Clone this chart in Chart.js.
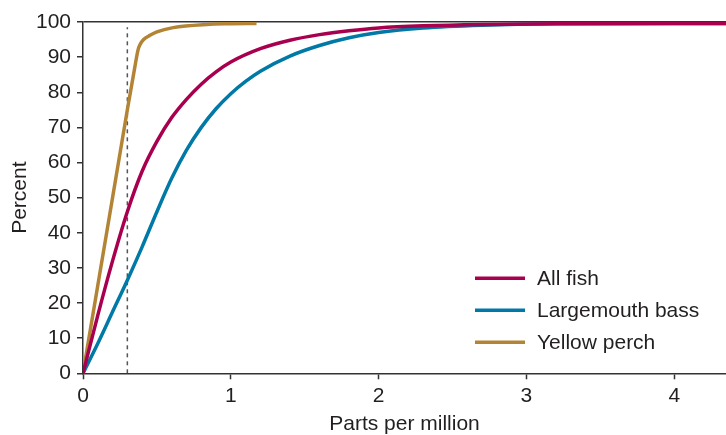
<!DOCTYPE html>
<html lang="en">
<head>
    <meta charset="UTF-8">
    <title>Mercury in fish</title>
    <style>
        body{ margin: 0; background: #fff; }
        div{ width: 726px; height: 435px; }
    </style>
</head>
<body>
    <div>
        <canvas id="grafico"></canvas>
    </div>

<script src="https://cdn.jsdelivr.net/npm/chart.js"></script>
<script>
  // cumulative percent of fish vs mercury concentration (ppm)
  const seriesNames = ["All fish", "Largemouth bass", "Yellow perch"];
  const seriesColors = ["#a8004f", "#0079a6", "#b38436"];

  const allFishX = [0, 0.1, 0.2, 0.3, 0.4, 0.5, 0.6, 0.7, 0.8, 0.9, 1.0, 1.2, 1.4, 1.6, 1.8, 2.0, 2.3, 2.7, 3.2, 4.35];
  const allFishY = [0, 16.5, 32, 46, 57.5, 66, 72.8, 78, 82.3, 85.8, 88.6, 92.4, 94.8, 96.4, 97.5, 98.3, 98.9, 99.3, 99.5, 99.6];

  const bassX = [0, 0.1, 0.2, 0.3, 0.4, 0.5, 0.6, 0.7, 0.8, 0.9, 1.0, 1.1, 1.2, 1.4, 1.6, 1.8, 2.0, 2.3, 2.7, 3.2, 4.35];
  const bassY = [0, 8.5, 17.5, 26.5, 36, 46, 55.5, 63.5, 70, 75.3, 79.6, 83.1, 86, 90.3, 93.3, 95.5, 97, 98.3, 99.1, 99.5, 99.6];

  const perchX = [0, 0.1, 0.2, 0.3, 0.35, 0.372, 0.385, 0.41, 0.453, 0.5, 0.61, 0.836, 1.0, 1.174];
  const perchY = [0, 25, 50, 75, 87, 92, 93.5, 95, 96.2, 97.2, 98.4, 99.3, 99.5, 99.6];

  // dashed reference line at 0.3 ppm
  const refX = [0.3, 0.3];
  const refY = [0, 98.5];

  const xTicks = [0, 1, 2, 3, 4];
  const yTicks = [0, 10, 20, 30, 40, 50, 60, 70, 80, 90, 100];

  function pontos(xs, ys){
    return xs.map((x, i) => ({x: x, y: ys[i]}));
  }

  const fonte = "'Liberation Sans', Arial, sans-serif";
  Chart.defaults.font.family = fonte;
  Chart.defaults.color = "#231f20";

  // legend drawn inside the plot area, bottom right
  const legendaInterna = {
    id: 'legendaInterna',
    afterDatasetsDraw(chart){
      const c = chart.ctx;
      const area = chart.chartArea;
      c.save();
      c.font = "21px " + fonte;
      c.textBaseline = "middle";
      c.fillStyle = "#231f20";
      seriesNames.forEach((nome, i) => {
        const y = area.bottom - 95 + i * 32;
        c.strokeStyle = seriesColors[i];
        c.lineWidth = 3.5;
        c.beginPath();
        c.moveTo(area.right - 251, y);
        c.lineTo(area.right - 201, y);
        c.stroke();
        c.fillText(nome, area.right - 189, y + 1);
      });
      c.restore();
    }
  };

  const ctx = document.getElementById('grafico');

  new Chart(ctx, {
    type: 'scatter',
    data: {
      datasets: [
        { label: seriesNames[0], data: pontos(allFishX, allFishY), borderColor: seriesColors[0] },
        { label: seriesNames[1], data: pontos(bassX, bassY), borderColor: seriesColors[1] },
        { label: seriesNames[2], data: pontos(perchX, perchY), borderColor: seriesColors[2] },
        { label: 'ref', data: pontos(refX, refY), borderColor: '#555', borderWidth: 1.5, borderDash: [4, 4], cubicInterpolationMode: 'default' }
      ].map(d => Object.assign({
        showLine: true,
        pointRadius: 0,
        borderWidth: 3.5,
        fill: false,
        cubicInterpolationMode: 'monotone'
      }, d))
    },
    options: {
      responsive: true,
      maintainAspectRatio: false,
      animation: false,
      layout: { padding: { top: 22, left: 0, right: 0, bottom: 0 } },
      plugins: {
        legend: { display: false },
        tooltip: { enabled: false }
      },
      scales: {
        x: {
          type: 'linear',
          min: 0,
          max: 4.35,
          afterBuildTicks: s => { s.ticks = xTicks.map(v => ({value: v})); },
          afterFit: s => { s.height = 61.7; },
          border: { color: '#333', width: 1.5 },
          grid: { drawOnChartArea: false, tickLength: 6, tickColor: '#333', tickWidth: 1.5 },
          ticks: { font: { size: 21 }, padding: 4, maxRotation: 0 },
          title: { display: true, text: 'Parts per million', font: { size: 21, lineHeight: 1 }, padding: 0 }
        },
        y: {
          min: 0,
          max: 100,
          afterBuildTicks: s => { s.ticks = yTicks.map(v => ({value: v})); },
          afterFit: s => { s.width = 83; },
          border: { color: '#333', width: 1.5 },
          grid: {
            tickLength: 6,
            tickColor: '#333',
            lineWidth: 1.5,
            color: c => (c.tick && c.tick.value === 100) ? '#333' : 'rgba(0,0,0,0)'
          },
          ticks: { font: { size: 21 }, padding: 6 },
          title: { display: true, text: 'Percent', font: { size: 21, lineHeight: 1 }, padding: { top: 9.5, bottom: 0 } }
        }
      }
    },
    plugins: [legendaInterna]
  });
</script>
</body>
</html>
